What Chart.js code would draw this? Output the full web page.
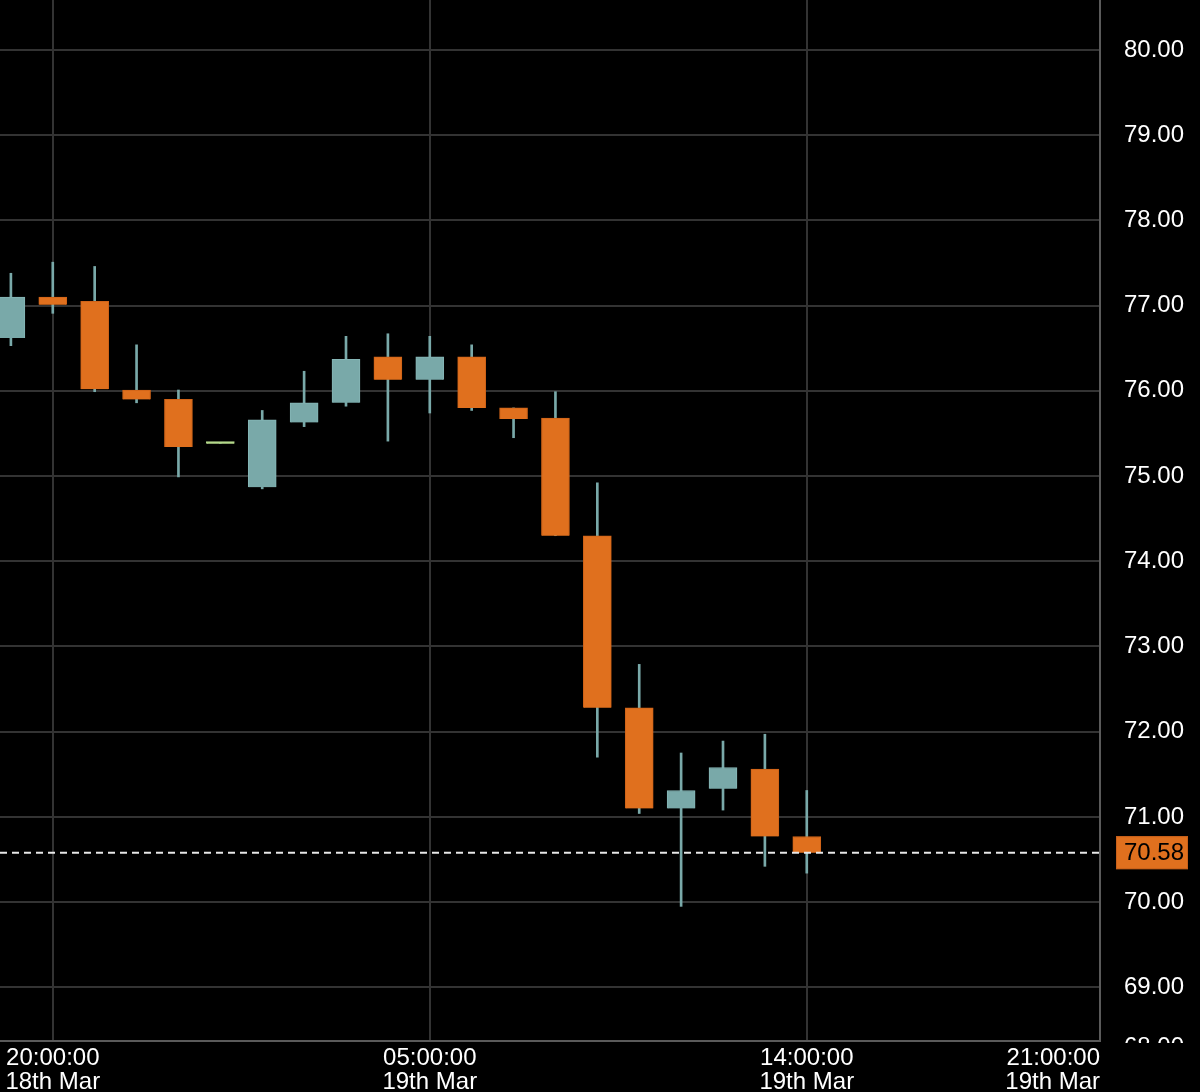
<!DOCTYPE html>
<html>
<head>
<meta charset="utf-8">
<title>Candles</title>
<script src="https://cdn.jsdelivr.net/npm/chart.js@4/dist/chart.umd.min.js"></script>
<style>
    html, body { margin: 0; padding: 0; background: #000; }
    #wrap { position: relative; width: 1200px; height: 1092px; }
</style>
</head>
<body>
<div id="wrap"><canvas id="chart"></canvas></div>
<script>
// hours counted from 18th Mar 00:00, one candle per hour
const hours = [19, 20, 21, 22, 23, 24, 25, 26, 27, 28, 29, 30, 31, 32, 33, 34, 35, 36, 37, 38];
const opens = [76.62, 77.10, 77.05, 76.01, 75.90, 75.38, 74.87, 75.63, 75.86, 76.40,
    76.13, 76.40, 75.80, 75.68, 74.30, 72.28, 71.10, 71.33, 71.56, 70.77];
const highs = [77.38, 77.51, 77.46, 76.54, 76.01, 75.38, 75.77, 76.23, 76.64, 76.67,
    76.64, 76.54, 75.80, 75.99, 74.92, 72.79, 71.75, 71.89, 71.97, 71.31];
const lows = [76.53, 76.91, 75.99, 75.86, 74.99, 75.38, 74.85, 75.58, 75.82, 75.41,
    75.74, 75.77, 75.45, 74.30, 71.70, 71.04, 69.95, 71.08, 70.42, 70.34];
const closes = [77.10, 77.01, 76.02, 75.90, 75.34, 75.38, 75.66, 75.86, 76.37, 76.13,
    76.40, 75.80, 75.67, 74.30, 72.28, 71.10, 71.31, 71.58, 70.77, 70.58];

const xTickHours = [20, 29, 38, 45];
const xTickLabels = [
    ['20:00:00', '18th Mar'],
    ['05:00:00', '19th Mar'],
    ['14:00:00', '19th Mar'],
    ['21:00:00', '19th Mar'],
];
const yHiddenTick = 68;
const lastPrice = closes[closes.length - 1];

const UP = '#79a9a9';
const DOWN = '#e0701e';
const FLAT = '#b4d88a';
const FONT = "'Liberation Sans', Arial, sans-serif";

function candleColor(i) {
    if (closes[i] > opens[i]) return UP;
    if (closes[i] < opens[i]) return DOWN;
    return FLAT;
}

/**
 * Plugin, that draws the dashed last price line, its label and the clipped bottom tick.
 */
const priceLinePlugin = {
    id: 'priceLine',
    afterDraw(chart) {
        const ctx = chart.ctx;
        const area = chart.chartArea;
        const y = chart.scales.y.getPixelForValue(lastPrice);

        ctx.save();
        ctx.strokeStyle = '#e8e8e8';
        ctx.lineWidth = 2;
        ctx.setLineDash([7, 5]);
        ctx.beginPath();
        ctx.moveTo(area.left, y);
        ctx.lineTo(area.right, y);
        ctx.stroke();
        ctx.setLineDash([]);

        ctx.fillStyle = DOWN;
        ctx.fillRect(area.right + 16, y - 16.5, 72, 33);
        ctx.strokeStyle = '#c9601a';
        ctx.lineWidth = 1;
        ctx.strokeRect(area.right + 16.5, y - 16, 71, 32);

        ctx.font = '24px ' + FONT;
        ctx.textAlign = 'left';
        ctx.textBaseline = 'middle';
        ctx.fillStyle = '#000';
        ctx.fillText(lastPrice.toFixed(2), area.right + 24, y + 1);

        // next tick label sits under the axis line and is cut off
        ctx.beginPath();
        ctx.rect(area.right + 2, 0, 100, area.bottom + 2);
        ctx.clip();
        ctx.fillStyle = '#fff';
        ctx.fillText(yHiddenTick.toFixed(2), area.right + 24, area.bottom + 6);
        ctx.restore();
    },
};

const bodyData = hours.map((h, i) => ({x: h, y: [opens[i], closes[i]]}));
const wickData = hours.map((h, i) => ({x: h, y: [lows[i], highs[i]]}));
const bodyColors = hours.map((h, i) => candleColor(i));
const bodyBorders = bodyColors.map(c => (c === DOWN ? '#cf6318' : c === UP ? '#86b6b6' : c));

new Chart(document.getElementById('chart'), {
    type: 'bar',
    data: {
        datasets: [
            {
                label: 'body',
                data: bodyData,
                backgroundColor: bodyColors,
                borderColor: bodyBorders,
                borderWidth: 1,
                barThickness: 28,
                minBarLength: 2,
                grouped: false,
                order: 1,
            },
            {
                label: 'wick',
                data: wickData,
                backgroundColor: UP,
                borderWidth: 0,
                barThickness: 2,
                grouped: false,
                order: 2,
            },
        ],
    },
    options: {
        responsive: true,
        maintainAspectRatio: false,
        animation: false,
        layout: {padding: 0},
        plugins: {
            legend: {display: false},
            tooltip: {enabled: false},
        },
        scales: {
            x: {
                type: 'linear',
                min: 18.74,
                max: 45,
                offset: false,
                afterBuildTicks(scale) {
                    scale.ticks = [{value: scale.min}].concat(xTickHours.map(v => ({value: v})));
                },
                afterFit(scale) {
                    scale.height = 51;
                    scale.paddingLeft = 0;
                    scale.paddingRight = 0;
                },
                grid: {
                    offset: false,
                    drawTicks: false,
                    color: ctx => (ctx.index === 0 ? 'rgba(0,0,0,0)' : '#333333'),
                    lineWidth: 2,
                },
                border: {color: '#5a5a5a', width: 2},
                ticks: {
                    align: 'inner',
                    maxRotation: 0,
                    autoSkip: false,
                    padding: 5,
                    color: '#ffffff',
                    font: {family: FONT, size: 24, lineHeight: 1},
                    callback(value) {
                        const i = xTickHours.indexOf(value);
                        return i < 0 ? '' : xTickLabels[i];
                    },
                },
            },
            y: {
                position: 'right',
                min: 68.37,
                max: 80.587,
                beginAtZero: false,
                afterFit(scale) {
                    scale.width = 100;
                    scale.paddingTop = 0;
                    scale.paddingBottom = 0;
                },
                grid: {
                    drawTicks: false,
                    color: '#333333',
                    lineWidth: 2,
                },
                border: {color: '#5a5a5a', width: 2},
                ticks: {
                    stepSize: 1,
                    includeBounds: false,
                    padding: 24,
                    color: '#ffffff',
                    font: {family: FONT, size: 24},
                    callback: value => value.toFixed(2),
                },
            },
        },
    },
    plugins: [priceLinePlugin],
});
</script>
</body>
</html>
